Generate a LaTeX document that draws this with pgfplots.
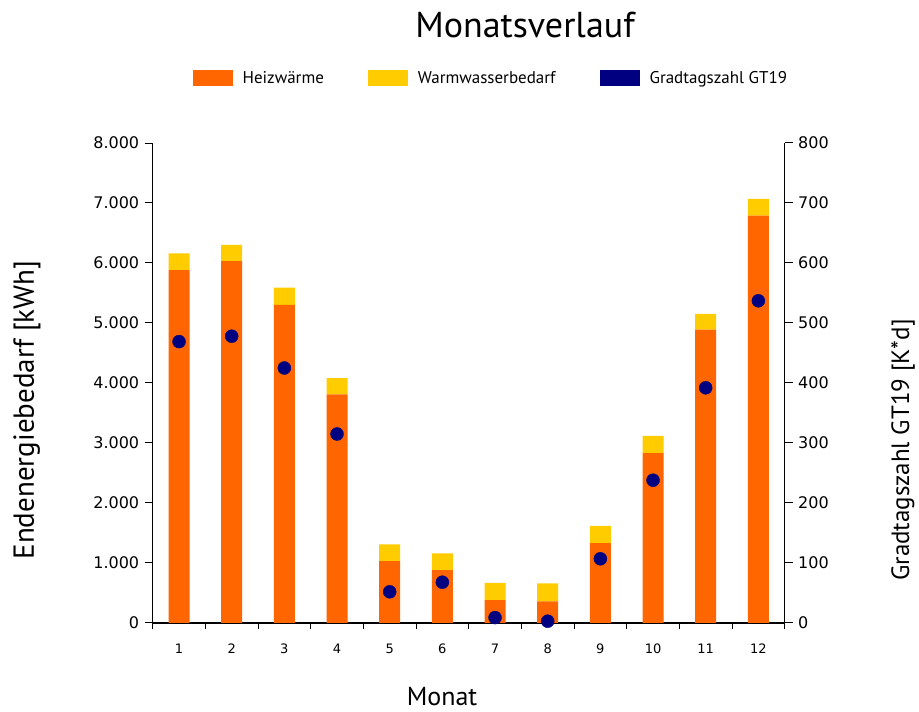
\documentclass[border=0pt]{standalone}
\usepackage{pgfplots}
\pgfplotsset{compat=1.18}
\usepackage{fontspec}
\setmainfont{PT Sans}
\newfontfamily\verd{DejaVu Sans}
\definecolor{heiz}{HTML}{FF6600}
\definecolor{ww}{HTML}{FFCC00}
\definecolor{gt}{HTML}{000080}
\pgfplotsset{boxleg/.style={legend image code/.code={\fill[##1] (0pt,-8pt) rectangle (40pt,8pt); \path (48pt,0pt);}}}
\begin{document}
\begin{tikzpicture}[x=1pt,y=1pt]
\useasboundingbox (0,0) rectangle (919,712);
\begin{axis}[
  at={(152.7pt,89pt)}, anchor=south west,
  width=632pt, height=480pt, scale only axis,
  xmin=0.5, xmax=12.5, ymin=0, ymax=8000,
  axis x line*=bottom, axis y line*=left,
  ybar stacked, bar width=21pt,
  xtick={1,...,12}, minor xtick={0.5,1.5,...,12.5},
  major x tick style={draw=none},
  tick align=outside, major tick length=8pt, minor tick length=6pt,
  every tick/.style={black, line width=1pt},
  axis line style={line width=1.2pt},
  ytick={0,1000,...,8000},
  scaled y ticks=false,
  /pgf/number format/.cd, 1000 sep={.}, assume math mode=true, /pgfplots/.cd,
  yticklabel style={font=\verd\fontsize{16}{16}\selectfont, xshift=-2pt},
  xticklabel style={font=\verd\fontsize{13}{13}\selectfont, yshift=-9pt},
  legend columns=3,
  legend style={at={(0.535,1.135)}, anchor=center, draw=none, fill=none,
    font=\fontsize{17}{20}\selectfont, /tikz/every even column/.append style={column sep=42pt}},
  legend cell align=left,
]
\addplot[boxleg, fill=heiz, draw=none] coordinates {
 (1,5880) (2,6030) (3,5300) (4,3810) (5,1030) (6,880) (7,380) (8,360) (9,1330) (10,2830) (11,4890) (12,6790)};
\addlegendentry{Heizwärme}
\addplot[boxleg, fill=ww, draw=none] coordinates {
 (1,280) (2,270) (3,290) (4,270) (5,280) (6,280) (7,290) (8,300) (9,290) (10,290) (11,260) (12,280)};
\addlegendentry{Warmwasserbedarf}
\addlegendimage{boxleg, fill=gt, draw=none}
\addlegendentry{Gradtagszahl GT19}
\end{axis}
\begin{axis}[
  at={(152.7pt,89pt)}, anchor=south west,
  width=632pt, height=480pt, scale only axis,
  xmin=0.5, xmax=12.5, ymin=0, ymax=800,
  axis x line=none, axis y line*=right,
  tick align=outside, major tick length=8pt,
  every tick/.style={black, line width=1pt},
  axis line style={line width=1.2pt},
  ytick={0,100,...,800},
  /pgf/number format/.cd, assume math mode=true, /pgfplots/.cd,
  yticklabel style={font=\verd\fontsize{16}{16}\selectfont, xshift=2pt},
]
\addplot[only marks, mark=*, mark size=6.5pt, color=gt] coordinates {
 (1,469) (2,478) (3,425) (4,315) (5,52) (6,68) (7,9) (8,3) (9,107) (10,238) (11,392) (12,537)};
\end{axis}
\node[font=\fontsize{36}{40}\selectfont, anchor=base] at (525,674) {Monatsverlauf};
\node[font=\fontsize{26}{30}\selectfont, anchor=base] at (442,6) {Monat};
\node[font=\fontsize{29}{32}\selectfont, rotate=90] at (27,302) {Endenergiebedarf [kWh]};
\node[font=\fontsize{25}{28}\selectfont, rotate=90] at (903,262) {Gradtagszahl GT19 [K*d]};
\end{tikzpicture}
\end{document}
